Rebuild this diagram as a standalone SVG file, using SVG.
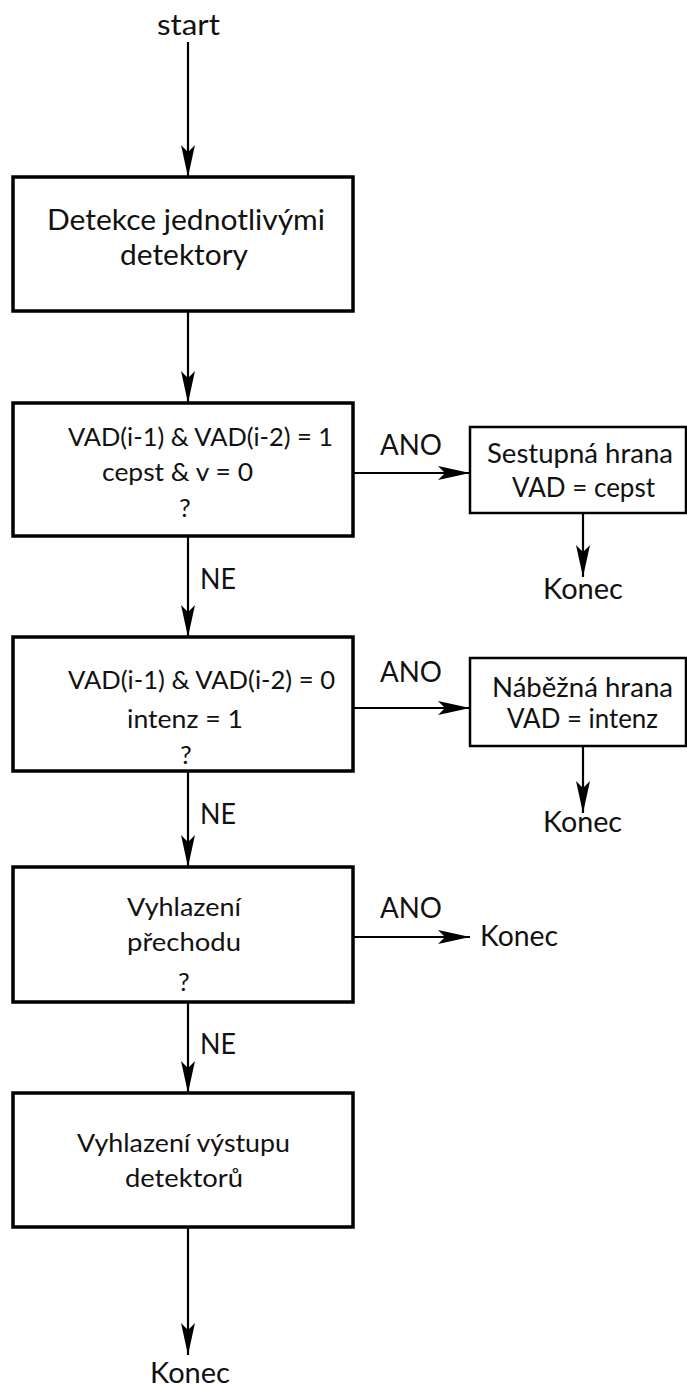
<svg xmlns="http://www.w3.org/2000/svg" width="687" height="1388" viewBox="0 0 687 1388">
<style>
  .box{fill:#fff;stroke:#000;stroke-width:3.5}
  .sbox{fill:#fff;stroke:#000;stroke-width:2.5}
  .edge{fill:none;stroke:#000;stroke-width:2.2;marker-end:url(#arr)}
  text{font-family:Lato,"Liberation Sans",sans-serif;fill:#111}
  .big{font-size:29px}
  .mid{font-size:25.5px}
  .sm{font-size:26px}
</style>
<defs>
  <marker id="arr" markerUnits="userSpaceOnUse" markerWidth="34" markerHeight="16" refX="32" refY="7" orient="auto">
    <path d="M0,0 L32,7 L0,14 L7,7 Z" fill="#000"/>
  </marker>
</defs>
<rect width="687" height="1388" fill="#fff"/>

<g id="connectors">
  <line class="edge" x1="188" y1="42" x2="188" y2="177"/>
  <line class="edge" x1="188" y1="311" x2="188" y2="403"/>
  <line class="edge" x1="188" y1="536" x2="188" y2="637"/>
  <line class="edge" x1="188" y1="771" x2="188" y2="867"/>
  <line class="edge" x1="188" y1="1002" x2="188" y2="1093"/>
  <line class="edge" x1="188" y1="1227" x2="188" y2="1355"/>
  <line class="edge" x1="353" y1="473" x2="470" y2="473"/>
  <line class="edge" x1="353" y1="708" x2="470" y2="708"/>
  <line class="edge" x1="353" y1="937" x2="470" y2="937"/>
  <line class="edge" x1="583" y1="513" x2="583" y2="577"/>
  <line class="edge" x1="583" y1="746" x2="583" y2="813"/>
  <text class="big" x="380" y="455" textLength="62" lengthAdjust="spacingAndGlyphs">ANO</text>
  <text class="big" x="380" y="682" textLength="62" lengthAdjust="spacingAndGlyphs">ANO</text>
  <text class="big" x="380" y="918" textLength="62" lengthAdjust="spacingAndGlyphs">ANO</text>
  <text class="big" x="200" y="589" textLength="36" lengthAdjust="spacingAndGlyphs">NE</text>
  <text class="big" x="200" y="824" textLength="36" lengthAdjust="spacingAndGlyphs">NE</text>
  <text class="big" x="200" y="1054" textLength="36" lengthAdjust="spacingAndGlyphs">NE</text>
</g>

<g id="start">
  <text class="big" x="157" y="35" textLength="63" lengthAdjust="spacingAndGlyphs">start</text>
</g>

<g id="detekce">
  <rect class="box" x="13" y="177" width="340" height="134"/>
  <text class="big" x="47" y="230" textLength="278" lengthAdjust="spacingAndGlyphs">Detekce jednotlivými</text>
  <text class="big" x="120" y="265" textLength="128" lengthAdjust="spacingAndGlyphs">detektory</text>
</g>

<g id="cond1">
  <rect class="box" x="13" y="403" width="340" height="133"/>
  <text class="mid" x="68" y="446" textLength="265" lengthAdjust="spacingAndGlyphs">VAD(i-1) &amp; VAD(i-2) = 1</text>
  <text class="mid" x="102" y="481" textLength="151" lengthAdjust="spacingAndGlyphs">cepst &amp; v = 0</text>
  <text class="mid" x="185" y="517" text-anchor="middle">?</text>
</g>

<g id="sestupna">
  <rect class="sbox" x="470" y="427" width="216" height="86"/>
  <text class="sm" x="487" y="463" textLength="186" lengthAdjust="spacingAndGlyphs">Sestupná hrana</text>
  <text class="sm" x="512" y="497" textLength="143" lengthAdjust="spacingAndGlyphs">VAD = cepst</text>
</g>

<g id="konec1">
  <text class="big" x="543" y="599" textLength="80" lengthAdjust="spacingAndGlyphs">Konec</text>
</g>

<g id="cond2">
  <rect class="box" x="13" y="637" width="340" height="134"/>
  <text class="mid" x="68" y="689" textLength="267" lengthAdjust="spacingAndGlyphs">VAD(i-1) &amp; VAD(i-2) = 0</text>
  <text class="mid" x="127" y="728" textLength="116" lengthAdjust="spacingAndGlyphs">intenz = 1</text>
  <text class="mid" x="186" y="764" text-anchor="middle">?</text>
</g>

<g id="nabezna">
  <rect class="sbox" x="470" y="658" width="216" height="88"/>
  <text class="sm" x="492" y="697" textLength="181" lengthAdjust="spacingAndGlyphs">Náběžná hrana</text>
  <text class="sm" x="507" y="728" textLength="151" lengthAdjust="spacingAndGlyphs">VAD = intenz</text>
</g>

<g id="konec2">
  <text class="big" x="543" y="832" textLength="79" lengthAdjust="spacingAndGlyphs">Konec</text>
</g>

<g id="cond3">
  <rect class="box" x="13" y="867" width="340" height="135"/>
  <text class="mid" x="127" y="916" textLength="114" lengthAdjust="spacingAndGlyphs">Vyhlazení</text>
  <text class="mid" x="127" y="951" textLength="114" lengthAdjust="spacingAndGlyphs">přechodu</text>
  <text class="mid" x="184" y="991" text-anchor="middle">?</text>
</g>

<g id="konec3">
  <text class="big" x="480" y="946" textLength="78" lengthAdjust="spacingAndGlyphs">Konec</text>
</g>

<g id="vyhlazeni">
  <rect class="box" x="13" y="1093" width="340" height="134"/>
  <text class="mid" x="77" y="1152" textLength="213" lengthAdjust="spacingAndGlyphs">Vyhlazení výstupu</text>
  <text class="mid" x="125" y="1187" textLength="118" lengthAdjust="spacingAndGlyphs">detektorů</text>
</g>

<g id="konec4">
  <text class="big" x="150" y="1383" textLength="80" lengthAdjust="spacingAndGlyphs">Konec</text>
</g>
</svg>
